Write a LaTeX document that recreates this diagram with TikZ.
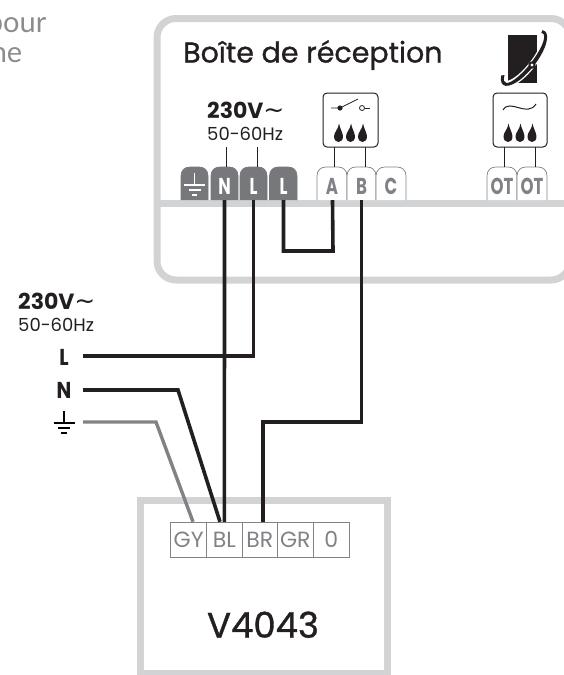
\documentclass[tikz,border=0pt]{standalone}
\usepackage{fontspec}
\setmainfont{Poppins}
\newfontfamily\titlefont[FakeBold=1]{Poppins}
\newfontfamily\lightfont{Lato}
\newfontfamily\symfont{DejaVu Sans}
\definecolor{ink}{HTML}{231F20}
\definecolor{boxgray}{HTML}{D1D3D4}
\definecolor{wiregray}{HTML}{808285}
\definecolor{termdark}{HTML}{77787B}
\definecolor{pagetext}{HTML}{8C8C8C}
\newcommand{\fs}[1]{\fontsize{#1}{#1}\selectfont}
\newcommand{\narrow}[1]{\scalebox{.72}[1]{#1}}
\newcommand{\termshape}[4]{% x0 x1 fill draw
  \path[fill=#3,draw=#4,line width=.7pt] (#1,200) -- (#1,176) .. controls (#1,170) and (#1+4,167) .. (#1+9,167) -- (#2-9,167) .. controls (#2-4,167) and (#2,170) .. (#2,176) -- (#2,200);}
\newcommand{\flame}[1]{%
  \fill[ink,shift={(#1,142)}] (0,0) .. controls (-3,0) and (-4.6,-2.5) .. (-4.4,-6) .. controls (-4.2,-10) and (-0.6,-12) .. (0.6,-18.5) .. controls (1.2,-13.5) and (4.2,-10) .. (4.4,-6) .. controls (4.6,-2.5) and (3,0) .. (0,0) -- cycle;}
\newcommand{\earth}[2]{% cx, top y
  \draw[line width=1.1pt] (#1,#2) -- (#1,#2+12);
  \draw[line width=1.1pt] (#1-10.5,#2+12) -- (#1+10.5,#2+12);
  \draw[line width=1.1pt] (#1-6,#2+17) -- (#1+6,#2+17);
  \draw[line width=1.1pt] (#1-2.7,#2+22) -- (#1+2.7,#2+22);}
\tikzset{
  wire/.style={draw=ink,line width=3.6pt,miter limit=10},
  graywire/.style={draw=wiregray,line width=3.4pt,miter limit=10},
  frame/.style={draw=boxgray,line width=7pt},
  thin/.style={draw=ink,line width=.8pt},
  iconbox/.style={draw=ink,line width=1pt,rounded corners=4pt,fill=white},
  term/.style={inner sep=0,minimum width=27pt,minimum height=33pt},
  cell/.style={draw=wiregray,line width=1pt,inner sep=0,minimum height=35pt,text=wiregray,font=\fs{22}},
  ttext/.style={anchor=base,inner sep=0,font=\bfseries\fs{23}},
  plain/.style={anchor=base west,inner sep=0,text=ink},
}
\begin{document}
\begin{tikzpicture}[x=1pt,y=-1pt]
\useasboundingbox (0,0) rectangle (564,675);
% cut-off text
\node[anchor=base east,inner sep=0,text=pagetext,font=\lightfont\fs{29}] (cutA) at (46.5,32) {pour};
\node[anchor=base east,inner sep=0,text=pagetext,font=\lightfont\fs{29}] (cutB) at (22.5,62) {ne};
% reception box
\draw[frame,rounded corners=19pt] (157,18.5) rectangle (570,280);
\draw[frame] (157,203.5) -- (570,203.5);
\node[plain,font=\titlefont\fs{28.5}] (title) at (183,62.5) {Boîte de réception};
% logo
\fill[ink] (508,35) rectangle (537,83);
\begin{scope}[shift={(524,58)},rotate=52,x=1pt,y=1pt]
  \draw[white,line width=6.5pt] (12:32 and 10.5) arc[start angle=12,end angle=-215,x radius=32,y radius=10.5];
  \fill[ink]
    (12:34 and 12.5) arc[start angle=12,end angle=-215,x radius=34,y radius=12.5]
    -- (-215:31 and 8.5) arc[start angle=-215,end angle=12,x radius=31,y radius=8.5] -- cycle;
\end{scope}
\fill[ink] (532,65) circle (3.6);
\fill[white] (532,65) circle (1.7);
% supply label inside
\node[plain,font=\bfseries\fs{22}] (supA) at (207,118) {230V\symfont\mdseries\fs{25}∼};
\node[plain,font=\fs{18}] (hzA) at (207,140) {50-60Hz};
% terminals
\termshape{181}{208}{termdark}{termdark}
\termshape{211}{238}{termdark}{termdark}
\termshape{240}{267}{termdark}{termdark}
\termshape{269.5}{297}{termdark}{termdark}
\termshape{317}{347}{white}{wiregray}
\termshape{347}{376}{white}{wiregray}
\termshape{376}{406}{white}{wiregray}
\termshape{487}{517}{white}{wiregray}
\termshape{517}{547}{white}{wiregray}
\node[term] (tE) at (194.5,183.5) {};
\node[term] (tN) at (224.5,183.5) {};
\node[term] (tL) at (253.5,183.5) {};
\node[term] (tLb) at (283.5,183.5) {};
\node[term,minimum width=30pt] (tA) at (332.5,183.5) {};
\node[term,minimum width=30pt] (tB) at (361.5,183.5) {};
\node[term,minimum width=30pt] (tC) at (391,183.5) {};
\node[term,minimum width=30pt] (tOa) at (502,183.5) {};
\node[term,minimum width=30pt] (tOb) at (532,183.5) {};
\begin{scope}[draw=white,color=white]
\earth{194.5}{173}
\end{scope}
\node[ttext,text=white] (lN) at (224.5,194) {\narrow{N}};
\node[ttext,text=white] (lL) at (253.5,194) {\narrow{L}};
\node[ttext,text=white] (lLb) at (283.5,194) {\narrow{L}};
\node[ttext,text=wiregray] (lA) at (332,194) {\narrow{A}};
\node[ttext,text=wiregray] (lB) at (361.5,194) {\narrow{B}};
\node[ttext,text=wiregray] (lC) at (391,194) {\narrow{C}};
\node[ttext,text=wiregray] (lOa) at (502,194) {\narrow{OT}};
\node[ttext,text=wiregray] (lOb) at (532,194) {\narrow{OT}};
% thin leads
\coordinate (hzN) at (226.7,147);
\coordinate (hzL) at (257,147);
\draw[thin] (hzN) -- (226.7,167);
\draw[thin] (hzL) -- (257,167);
% switch box
\node[iconbox,minimum width=55pt,minimum height=54pt,inner sep=0] (swbox) at (350.5,120) {};
\draw[thin] (334.7,147) -- (334.7,167);
\draw[thin] (365,147) -- (365,167);
\draw[thin] (331,108) -- (340,108) -- (358,99);
\fill[ink] (340,108) circle (2.6);
\draw[thin] (365,108) -- (370,108);
\draw[thin,fill=white] (362,108) circle (2.5);
\flame{338.5}\flame{350.5}\flame{362.5}
% OT box
\node[iconbox,minimum width=54pt,minimum height=54pt,inner sep=0] (otbox) at (520,120) {};
\draw[thin] (504,147) -- (504,167);
\draw[thin] (535,147) -- (535,167);
\draw[thin,line width=1pt] (503,110) .. controls (510,98) and (527,118) .. (536,104);
\flame{508}\flame{520}\flame{532}
% V4043 box
\draw[frame] (140.5,500.5) rectangle (387,673.5);
\node[cell,minimum width=36pt] (cGY) at (188.7,539.8) {GY};
\node[cell,minimum width=35.3pt] (cBL) at (224.4,539.8) {BL};
\node[cell,minimum width=35.3pt] (cBR) at (259.7,539.8) {BR};
\node[cell,minimum width=36pt] (cGR) at (295.3,539.8) {GR};
\node[cell,minimum width=35.7pt] (cO) at (331.2,539.8) {0};
\node[anchor=base,inner sep=0,text=ink,font=\titlefont\fs{35.5}] (vname) at (263,637.7) {V4043};
% wires
\draw[wire] (tN.south) -- (cBL.north);
\draw[wire] (tL.south) -- (253.5,356) -- (83,356);
\draw[wire] (tLb.south) -- (283.5,251) -- (333,251) -- (tA.south);
\draw[wire] (tB.south) -- (361.5,422) -- (262.7,422) -- ([xshift=3pt]cBR.north);
\coordinate (leadN) at (83,390);
\coordinate (leadE) at (83,422);
\draw[wire] (leadN) -- (178,390) -- ([xshift=-4.4pt]cBL.north);
\draw[graywire] (leadE) -- (156,422) -- ([xshift=4.3pt]cGY.north);
% left supply
\node[plain,font=\bfseries\fs{22}] (supB) at (18,309) {230V\symfont\mdseries\fs{25}∼};
\node[plain,font=\fs{18}] (hzB) at (18,331) {50-60Hz};
\node[ttext,text=ink] (inL) at (64,365) {\scalebox{.85}[1]{L}};
\node[ttext,text=ink] (inN) at (64,398) {\scalebox{.85}[1]{N}};
\earth{64}{411}
\end{tikzpicture}
\end{document}
